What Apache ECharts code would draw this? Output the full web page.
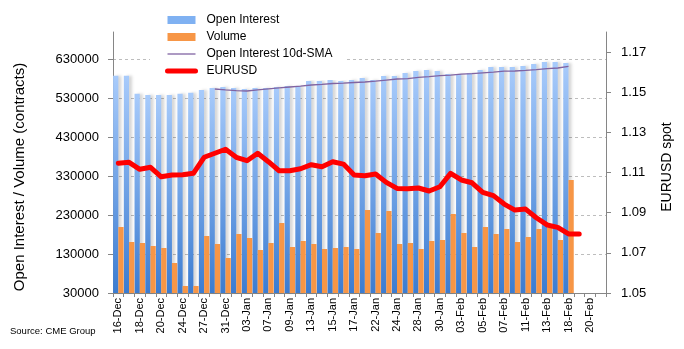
<!DOCTYPE html>
<html>
<head>
<meta charset="utf-8">
<script src="https://cdn.jsdelivr.net/npm/echarts@6/dist/echarts.min.js"></script>
<style>
html,body{margin:0;padding:0;background:#fff;}
#c{width:684px;height:349px;}
</style>
</head>
<body>
<div id="c"></div>
<script>
const categories = ['16-Dec','17-Dec','18-Dec','19-Dec','20-Dec','23-Dec','24-Dec','26-Dec','27-Dec','30-Dec','31-Dec','02-Jan','03-Jan','06-Jan','07-Jan','08-Jan','09-Jan','10-Jan','13-Jan','14-Jan','15-Jan','16-Jan','17-Jan','21-Jan','22-Jan','23-Jan','24-Jan','27-Jan','28-Jan','29-Jan','30-Jan','31-Jan','03-Feb','04-Feb','05-Feb','06-Feb','07-Feb','10-Feb','11-Feb','12-Feb','13-Feb','14-Feb','18-Feb','19-Feb','20-Feb','21-Feb'];

const openInterest = [588000,588000,541600,538300,538000,538000,541600,544200,551100,556200,
  558800,556200,553700,556200,556200,558800,561400,561400,574200,574200,
  576800,574200,576800,581900,576800,587000,587000,594700,599900,602400,
  599900,592200,592200,594700,602400,610100,610100,610100,612700,617800,
  623000,623000,620400];

const volume = [199400,160900,158400,150600,145500,107000,48000,48000,176300,155800,
  119800,181500,171200,140400,158400,209700,148100,163500,155800,143000,
  145500,148100,143000,243100,184000,240500,155800,158400,143000,163500,
  166100,232800,184000,148100,199400,181500,194300,160900,173800,194300,
  196900,166100,320100];

const oiSma10 = [null,null,null,null,null,null,null,null,null,
  553700,551600,549600,548500,551600,554200,556500,558800,560900,564000,
  565700,567800,568800,570400,571600,573700,576500,579300,580100,583400,
  585200,587800,589300,591700,593400,595200,597000,599400,599900,601400,
  603500,605800,607600,612000];

const eurusd = [1.1146,1.1151,1.1116,1.1126,1.1079,1.1088,1.1089,1.1096,1.1176,1.1196,
  1.1216,1.1176,1.1159,1.1196,1.1154,1.1109,1.1109,1.1119,1.1139,1.1129,
  1.1154,1.1142,1.1088,1.1084,1.1093,1.1051,1.1021,1.1019,1.1023,1.1008,
  1.1029,1.1096,1.1063,1.1049,1.1001,1.0985,1.0943,1.0913,1.0918,1.0875,
  1.0839,1.0827,1.0794,1.0794];

const leftTicks = [30000,130000,230000,330000,430000,530000,630000];
const leftMax = 700000;
const rightTicks = [1.05,1.07,1.09,1.11,1.13,1.15,1.17];
const rightMax = 1.18;

const FONT = 'Liberation Sans';
const chart = echarts.init(document.getElementById('c'), null, {renderer:'canvas'});

const hiddenSymbol = {color: 'rgba(0,0,0,0)', borderWidth: 0, opacity: 0};

const option = {
  backgroundColor: '#ffffff',
  animation: false,
  textStyle: {fontFamily: FONT},
  grid: {left: 113, right: 78, top: 32, bottom: 56, containLabel: false},
  legend: {
    orient: 'vertical',
    left: 150, top: 9,
    padding: [5, 14, 3, 15],
    backgroundColor: '#ffffff',
    itemWidth: 28, itemHeight: 8, itemGap: 5,
    textStyle: {fontFamily: FONT, fontSize: 12, color: '#000', padding: [0, 0, 0, 6]},
    data: [
      {name: 'Open Interest', icon: 'rect', itemStyle: {color: '#7fb1f2'}},
      {name: 'Volume', icon: 'rect'},
      {name: 'Open Interest 10d-SMA', itemStyle: hiddenSymbol, lineStyle: {width: 1.3}},
      {name: 'EURUSD', itemStyle: hiddenSymbol, lineStyle: {width: 5, cap: 'round'}}
    ]
  },
  xAxis: {
    type: 'category',
    data: categories,
    boundaryGap: true,
    axisLine: {lineStyle: {color: '#868686', width: 1}},
    axisTick: {show: true, interval: 0, length: 4, lineStyle: {color: '#868686'}},
    axisLabel: {interval: 1, rotate: 90, fontSize: 11, color: '#000', margin: 5, fontFamily: FONT},
    splitLine: {show: false}
  },
  yAxis: [
    {
      type: 'value',
      min: leftTicks[0], max: leftMax,
      interval: leftTicks[1] - leftTicks[0],
      axisLine: {show: true, lineStyle: {color: '#868686'}},
      axisTick: {show: true, length: 5, lineStyle: {color: '#868686'}},
      axisLabel: {fontSize: 13, color: '#000', margin: 14, showMaxLabel: false, fontFamily: FONT,
        formatter: v => (leftTicks.indexOf(v) >= 0 ? String(v) : '')},
      splitLine: {show: true, showMaxLine: false, lineStyle: {color: '#bdbdbd', type: [3, 3], width: 1}}
    },
    {
      type: 'value',
      min: rightTicks[0], max: rightMax,
      interval: 0.02,
      position: 'right',
      axisLine: {show: true, lineStyle: {color: '#868686'}},
      axisTick: {show: true, length: 5, lineStyle: {color: '#868686'}},
      axisLabel: {fontSize: 13, color: '#000', margin: 15, showMaxLabel: false, fontFamily: FONT,
        formatter: v => {
          const s = v.toFixed(2);
          return rightTicks.some(t => t.toFixed(2) === s) ? s : '';
        }},
      splitLine: {show: false}
    }
  ],
  graphic: [
    {type: 'text', x: 20, y: 177, rotation: Math.PI / 2,
      style: {text: 'Open Interest / Volume (contracts)', font: '15px "Liberation Sans"', fill: '#000',
        textAlign: 'center', textVerticalAlign: 'middle'}},
    {type: 'text', x: 667, y: 167, rotation: Math.PI / 2,
      style: {text: 'EURUSD spot', font: '14px "Liberation Sans"', fill: '#000',
        textAlign: 'center', textVerticalAlign: 'middle'}},
    {type: 'text', x: 10, y: 331,
      style: {text: 'Source: CME Group', font: '9.5px "Liberation Sans"', fill: '#000',
        textAlign: 'left', textVerticalAlign: 'middle'}}
  ],
  series: [
    {
      name: 'Open Interest', type: 'bar', yAxisIndex: 0,
      data: openInterest,
      barCategoryGap: '2%', barGap: '0%',
      itemStyle: {
        color: new echarts.graphic.LinearGradient(0, 0, 0, 1, [
          {offset: 0, color: '#a8cbfb'},
          {offset: 1, color: '#3b7cd1'}
        ]),
        shadowColor: 'rgba(0,0,0,0.16)', shadowBlur: 3, shadowOffsetX: 3
      },
      z: 2
    },
    {
      name: 'Volume', type: 'bar', yAxisIndex: 0,
      data: volume,
      barCategoryGap: '2%', barGap: '0%',
      itemStyle: {color: '#f79646'},
      z: 3
    },
    {
      name: 'Open Interest 10d-SMA', type: 'line', yAxisIndex: 0,
      data: oiSma10,
      symbol: 'none',
      lineStyle: {color: '#8064a2', width: 1.3},
      itemStyle: {color: '#8064a2'},
      z: 4
    },
    {
      name: 'EURUSD', type: 'line', yAxisIndex: 1,
      data: eurusd,
      symbol: 'none',
      lineStyle: {color: '#ff0000', width: 5, cap: 'round', join: 'round'},
      itemStyle: {color: '#ff0000'},
      z: 5
    }
  ]
};
chart.setOption(option);
</script>
</body>
</html>
